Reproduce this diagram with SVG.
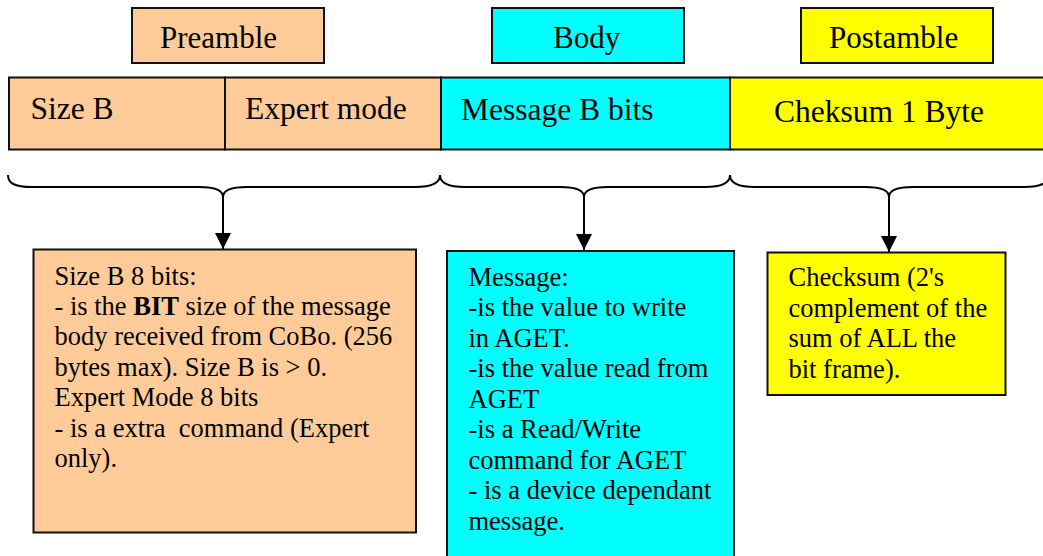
<svg xmlns="http://www.w3.org/2000/svg" width="1043" height="556" viewBox="0 0 1043 556">
<style>
text{font-family:"Liberation Serif","Times New Roman",serif;fill:#000}
.lbl{font-size:31px}
.bar{font-size:31.5px}
.desc{font-size:26.5px}
.box{stroke:#111;stroke-width:2}
.pe{fill:#FFCC99}
.cy{fill:#00FFFF}
.ye{fill:#FFFF00}
.brace{fill:none;stroke:#000;stroke-width:2}
.arr{stroke:#000;stroke-width:2;fill:none}
</style>
<defs>
<marker id="ah" viewBox="0 0 16 16" refX="16" refY="8" markerWidth="16" markerHeight="16" markerUnits="userSpaceOnUse" orient="auto">
<path d="M0,0 L16,8 L0,16 Z" fill="#000"/>
</marker>
</defs>
<g id="preamble-label">
<rect class="box pe" x="132" y="8" width="192" height="55"/>
<text class="lbl" x="160" y="48">Preamble</text>
</g>
<g id="body-label">
<rect class="box cy" x="492" y="8" width="192" height="55"/>
<text class="lbl" x="553" y="48">Body</text>
</g>
<g id="postamble-label">
<rect class="box ye" x="801" y="8" width="192" height="55"/>
<text class="lbl" x="829" y="48">Postamble</text>
</g>
<g id="cell-sizeb">
<rect class="box pe" x="9" y="77.5" width="216" height="72"/>
<text class="bar" x="30.5" y="118.5">Size B</text>
</g>
<g id="cell-expert">
<rect class="box pe" x="225" y="77.5" width="216" height="72"/>
<text class="bar" x="245" y="118.5">Expert mode</text>
</g>
<g id="cell-message">
<rect class="box cy" x="441" y="77.5" width="289" height="72"/>
<text class="bar" x="461" y="119.5">Message B bits</text>
</g>
<g id="cell-checksum">
<rect class="box ye" x="730" y="77.5" width="330" height="72"/>
<text class="bar" x="774" y="122">Cheksum 1 Byte</text>
</g>
<g id="connectors">
<path class="brace" d="M8,175 C8,183 14,187 32,187 L199,187 C214,187 223,190 223,197 C223,190 232,187 247,187 L415,187 C433,187 440,183 440,175"/>
<path class="brace" d="M440,175 C440,183 447,187 465,187 L560,187 C575,187 584,190 584,197 C584,190 593,187 608,187 L705,187 C723,187 730,183 730,175"/>
<path class="brace" d="M730,175 C730,183 737,187 755,187 L865,187 C880,187 889,190 889,197 C889,190 898,187 913,187 L1024,187 C1042,187 1048,183 1048,175"/>
<line class="arr" x1="223" y1="197" x2="223" y2="249" marker-end="url(#ah)"/>
<line class="arr" x1="584" y1="197" x2="584" y2="250" marker-end="url(#ah)"/>
<line class="arr" x1="889" y1="197" x2="889" y2="252" marker-end="url(#ah)"/>
</g>
<g id="preamble-desc">
<rect class="box pe" x="33.5" y="249.5" width="382.5" height="283"/>
<text class="desc" x="54.5" y="284.5">Size B 8 bits:</text>
<text class="desc" x="54.5" y="314.9">- is the <tspan font-weight="bold">BIT</tspan> size of the message</text>
<text class="desc" x="54.5" y="345.3">body received from CoBo. (256</text>
<text class="desc" x="54.5" y="375.7">bytes max). Size B is &gt; 0.</text>
<text class="desc" x="54.5" y="406.1">Expert Mode 8 bits</text>
<text class="desc" x="54.5" y="436.5">- is a extra&#160; command (Expert</text>
<text class="desc" x="54.5" y="466.9">only).</text>
</g>
<g id="body-desc">
<rect class="box cy" x="447" y="251" width="287" height="320"/>
<text class="desc" x="468.5" y="285.7">Message:</text>
<text class="desc" x="468.5" y="316.2">-is the value to write</text>
<text class="desc" x="468.5" y="346.7">in AGET.</text>
<text class="desc" x="468.5" y="377.2">-is the value read from</text>
<text class="desc" x="468.5" y="407.7">AGET</text>
<text class="desc" x="468.5" y="438.2">-is a Read/Write</text>
<text class="desc" x="468.5" y="468.7">command for AGET</text>
<text class="desc" x="468.5" y="499.2">- is a device dependant</text>
<text class="desc" x="468.5" y="529.7">message.</text>
</g>
<g id="postamble-desc">
<rect class="box ye" x="767.5" y="252.5" width="238" height="142.5"/>
<text class="desc" x="788.5" y="285.7">Checksum (2's</text>
<text class="desc" x="788.5" y="316.5">complement of the</text>
<text class="desc" x="788.5" y="347.3">sum of ALL the</text>
<text class="desc" x="788.5" y="378.1">bit frame).</text>
</g>
</svg>
